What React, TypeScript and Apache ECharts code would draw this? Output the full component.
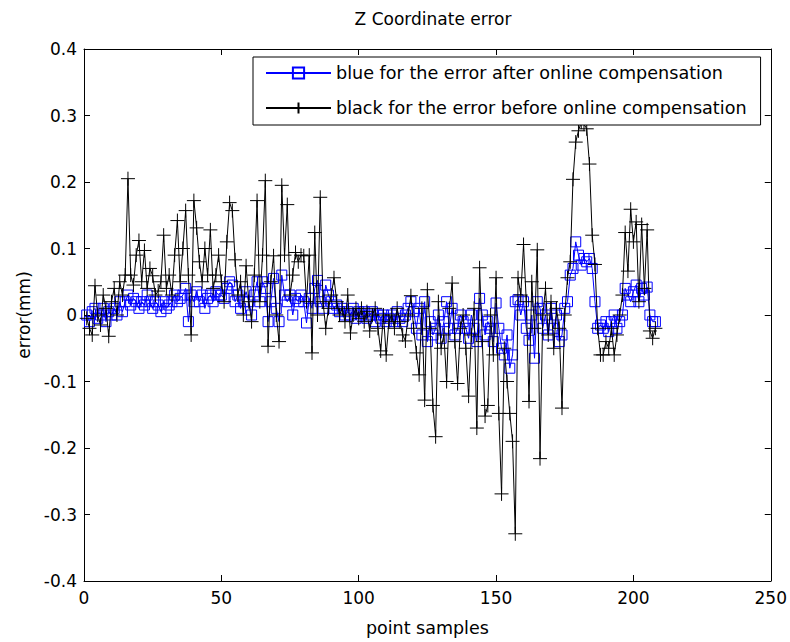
import React, { useEffect, useRef } from "react";
import * as echarts from "echarts";

const titleText = "Z Coordinate error";
const xAxisName = "point samples";
const yAxisName = "error(mm)";
const afterName = "blue for the error after online compensation";
const beforeName = "black for the error before online compensation";

const xMin = 0;
const xMax = 250;
const xStep = 50;
const yMin = -0.4;
const yMax = 0.4;
const yStep = 0.1;

// error after online compensation (blue), sample 1..208
const afterComp = [
  0.0, -0.01, 0.005, 0.01, -0.005, 0.0, 0.01, -0.01, 0.005, 0.0,
  0.01, 0.0, 0.02, 0.005, 0.02, 0.03, 0.015, 0.025, 0.02, 0.01,
  0.02, 0.015, 0.03, 0.02, 0.01, 0.02, 0.015, 0.005, 0.02, 0.01,
  0.015, 0.02, 0.03, 0.02, 0.025, 0.03, 0.04, -0.01, 0.03, 0.02,
  0.035, 0.02, 0.03, 0.01, 0.025, 0.03, 0.02, 0.035, 0.03, 0.03,
  0.025, 0.04, 0.05, 0.045, 0.02, 0.03, 0.01, 0.02, 0.035, 0.02,
  0.0, 0.03, 0.05, 0.02, 0.05, 0.04, -0.01, 0.02, 0.055, 0.01,
  -0.01, 0.06, 0.03, 0.02, 0.03, 0.0, 0.025, 0.02, 0.03, 0.02,
  -0.012, 0.025, 0.01, 0.04, 0.052, 0.02, 0.01, 0.045, 0.03, 0.02,
  0.01, 0.015, 0.005, 0.01, 0.0, 0.005, 0.0, 0.01, -0.005, 0.005,
  0.0, 0.005, -0.005, 0.0, 0.005, -0.01, 0.0, -0.005, 0.0, -0.01,
  -0.005, 0.0, -0.01, 0.005, -0.005, -0.01, 0.0, 0.01, 0.02, 0.005,
  -0.02, 0.01, -0.03, 0.02, -0.04, -0.01, -0.03, -0.02, 0.0, -0.035,
  -0.01, 0.02, -0.02, 0.01, -0.03, -0.02, 0.0, -0.01, -0.02, -0.035,
  0.0, -0.02, -0.04, 0.025, 0.0, -0.03, -0.01, -0.02, -0.04, 0.018,
  -0.02, -0.05, -0.06, -0.03, -0.08, -0.06, 0.02, 0.023, 0.0, 0.02,
  -0.02, -0.038, 0.0, -0.065, 0.02, 0.01, -0.02, 0.0, -0.03, 0.01,
  -0.02, 0.0, -0.04, -0.03, 0.01, 0.02, 0.06, 0.07, 0.11, 0.09,
  0.075, 0.085, 0.08, 0.085, 0.07, 0.02, -0.02, -0.015, -0.02, -0.01,
  -0.025, -0.01, 0.0, -0.02, -0.01, 0.0, 0.04, 0.03, 0.02, 0.035,
  0.045, 0.02, 0.04, 0.03, 0.042, 0.0, -0.01, -0.01,
];

// error before online compensation (black), sample 1..208
const beforeComp = [
  -0.005, -0.02, -0.03, 0.044, 0.0, -0.015, 0.03, 0.01, -0.032, 0.02,
  0.04, 0.0, 0.05, 0.03, 0.06, 0.205, 0.06, 0.045, 0.09, 0.112,
  0.05, 0.097, 0.04, 0.07, 0.059, 0.03, 0.036, 0.05, 0.12, 0.04,
  0.06, 0.03, 0.09, 0.142, 0.05, 0.1, 0.157, 0.06, -0.03, 0.172,
  0.131, 0.08, 0.05, 0.1, 0.06, 0.128, 0.04, 0.06, 0.09, 0.05,
  0.02, 0.11, 0.169, 0.157, 0.083, 0.03, 0.05, 0.0, 0.074, 0.02,
  -0.01, 0.06, 0.172, 0.02, 0.09, 0.202, -0.047, 0.05, 0.089, 0.0,
  -0.04, 0.195, 0.09, 0.166, 0.03, 0.06, 0.094, 0.08, 0.09, 0.089,
  0.02, 0.09, -0.057, 0.124, 0.0, 0.177, 0.02, -0.02, 0.01, 0.03,
  0.056, 0.02, 0.0, 0.01, -0.01, 0.03, -0.027, 0.0, 0.01, -0.005,
  0.01, -0.01, 0.005, -0.024, 0.0, 0.01, -0.02, -0.054, 0.0, -0.06,
  -0.01, 0.0, -0.02, 0.01, -0.01, -0.03, -0.039, 0.0, 0.029, -0.02,
  -0.057, -0.09, 0.01, -0.128, 0.038, -0.02, -0.136, -0.183, 0.02, -0.05,
  -0.03, -0.1, 0.01, 0.048, -0.04, -0.103, -0.02, 0.0, -0.05, -0.122,
  -0.03, 0.01, -0.17, 0.071, -0.04, -0.152, -0.136, 0.0, -0.06, 0.056,
  -0.148, -0.269, -0.05, -0.1, -0.148, -0.19, -0.329, 0.056, 0.03, 0.106,
  0.02, -0.13, 0.05, -0.02, 0.098, -0.216, 0.0, 0.04, -0.03, 0.02,
  -0.05, 0.01, -0.02, -0.14, 0.0, 0.056, 0.08, 0.204, 0.26, 0.277,
  0.29, 0.287, 0.28, 0.227, 0.12, 0.076, -0.02, -0.06, -0.06, -0.04,
  -0.05, -0.02, -0.06, -0.03, 0.0, 0.03, 0.124, 0.066, 0.159, 0.11,
  0.14, 0.02, 0.136, 0.04, 0.128, -0.024, -0.035, -0.02,
];

const FONT = "DejaVu Sans";
const plusSymbol = "path://M0,5L10,5M5,0L5,10";
const squareSymbol = "path://M0,0L10,0L10,10L0,10Z";

export default function App() {
  const ref = useRef<HTMLDivElement>(null);

  useEffect(() => {
    if (!ref.current) return;
    const chart = echarts.init(ref.current, null, { renderer: "svg" });
    const toPairs = (arr: number[]) => arr.map((v, i) => [i + 1, v]);

    const axisLine = { show: true, onZero: false, lineStyle: { color: "#000", width: 1 } };
    const axisTick = { show: true, inside: true, length: 6, lineStyle: { color: "#000", width: 1 } };
    const labelStyle = { fontFamily: FONT, fontSize: 17, color: "#000" };

    chart.setOption({
      animation: false,
      backgroundColor: "#ffffff",
      title: {
        text: titleText,
        left: 428,
        top: 5,
        textAlign: "center",
        textStyle: { fontFamily: FONT, fontSize: 17, fontWeight: "normal", color: "#000" },
      },
      legend: {
        orient: "vertical",
        left: 253,
        top: 57,
        backgroundColor: "#fff",
        borderColor: "#000",
        borderWidth: 1,
        borderRadius: 0,
        padding: [7, 14, 8, 12],
        itemWidth: 65,
        itemHeight: 14,
        itemGap: 17,
        selectedMode: false,
        textStyle: { fontFamily: FONT, fontSize: 17.6, color: "#000" },
        data: [afterName, beforeName],
      },
      grid: { left: 84, top: 49, right: 16, bottom: 55 },
      xAxis: [
        {
          type: "value",
          min: xMin,
          max: xMax,
          interval: xStep,
          position: "bottom",
          name: xAxisName,
          nameLocation: "middle",
          nameGap: 38,
          nameTextStyle: { fontFamily: FONT, fontSize: 17.5, color: "#000" },
          axisLine,
          axisTick,
          axisLabel: { ...labelStyle, margin: 8, showMinLabel: true, showMaxLabel: true },
          splitLine: { show: false },
        },
        {
          type: "value",
          min: xMin,
          max: xMax,
          interval: xStep,
          position: "top",
          axisLine,
          axisTick,
          axisLabel: { show: false },
          splitLine: { show: false },
        },
      ],
      yAxis: [
        {
          type: "value",
          min: yMin,
          max: yMax,
          interval: yStep,
          position: "left",
          name: yAxisName,
          nameLocation: "middle",
          nameGap: 50,
          nameTextStyle: { fontFamily: FONT, fontSize: 17, color: "#000" },
          axisLine,
          axisTick,
          axisLabel: { ...labelStyle, margin: 7, showMinLabel: true, showMaxLabel: true },
          splitLine: { show: false },
        },
        {
          type: "value",
          min: yMin,
          max: yMax,
          interval: yStep,
          position: "right",
          axisLine,
          axisTick,
          axisLabel: { show: false },
          splitLine: { show: false },
        },
      ],
      series: [
        {
          name: afterName,
          type: "line",
          xAxisIndex: 0,
          yAxisIndex: 0,
          data: toPairs(afterComp),
          symbol: squareSymbol,
          symbolSize: 10,
          showSymbol: true,
          showAllSymbol: true,
          lineStyle: { color: "#0000ff", width: 1 },
          itemStyle: { color: "rgba(0,0,0,0)", borderColor: "#0000ff", borderWidth: 1 },
          emphasis: { disabled: true },
          silent: true,
          z: 2,
        },
        {
          name: beforeName,
          type: "line",
          xAxisIndex: 0,
          yAxisIndex: 0,
          data: toPairs(beforeComp),
          symbol: plusSymbol,
          symbolSize: 14,
          showSymbol: true,
          showAllSymbol: true,
          lineStyle: { color: "#000000", width: 1 },
          itemStyle: { color: "rgba(0,0,0,0)", borderColor: "#000000", borderWidth: 1 },
          emphasis: { disabled: true },
          silent: true,
          z: 3,
        },
      ],
    });

    return () => {
      chart.dispose();
    };
  }, []);

  return (
    <div
      ref={ref}
      style={{ position: "fixed", left: 0, top: 0, width: 790, height: 642, background: "#fff" }}
    />
  );
}
